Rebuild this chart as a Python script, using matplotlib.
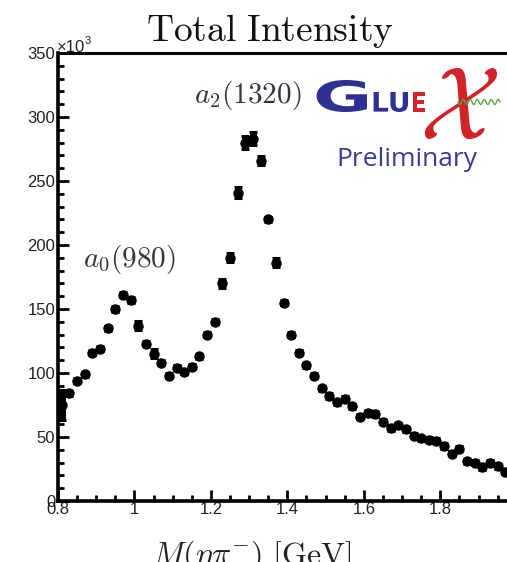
import numpy as np
import matplotlib
matplotlib.use("Agg")
import matplotlib.pyplot as plt
from matplotlib.ticker import MultipleLocator
from matplotlib.textpath import TextPath
from matplotlib.patches import PathPatch
from matplotlib.font_manager import FontProperties
from matplotlib.transforms import Affine2D

plt.rcParams['mathtext.fontset'] = 'cm'
plt.rcParams['font.family'] = ['Liberation Sans', 'DejaVu Sans']

# eta pi- invariant mass bins (GeV) and total intensity (x10^3 events)
mass = [0.81, 0.83, 0.85, 0.87, 0.89, 0.91, 0.93, 0.95, 0.97, 0.99,
        1.01, 1.03, 1.05, 1.07, 1.09, 1.11, 1.13, 1.15, 1.17, 1.19,
        1.21, 1.23, 1.25, 1.27, 1.29, 1.31, 1.33, 1.35, 1.37, 1.39,
        1.41, 1.43, 1.45, 1.47, 1.49, 1.51, 1.53, 1.55, 1.57, 1.59,
        1.61, 1.63, 1.65, 1.67, 1.69, 1.71, 1.73, 1.75, 1.77, 1.79,
        1.81, 1.83, 1.85, 1.87, 1.89, 1.91, 1.93, 1.95, 1.97]
intensity = [75, 84, 94, 99, 116, 119, 135, 150, 161, 157,
             137, 123, 115, 108, 98, 104, 101, 105, 113, 130,
             140, 170, 190, 241, 280, 283, 266, 220, 186, 155,
             130, 116, 106, 98, 88, 82, 77, 80, 74, 66,
             69, 68, 62, 57, 59, 56, 51, 49, 48, 47,
             43, 37, 41, 31, 30, 26.5, 30, 27, 23]
errors = [12, 2, 2, 2, 2, 2, 2, 2, 2, 2,
          3.5, 2, 3.5, 2, 2, 2, 2, 2, 2, 2,
          2, 3.5, 3.5, 4, 5, 5, 3.5, 2, 3.5, 2,
          2, 2, 2, 2, 2, 2, 2, 2, 2, 2,
          2, 2, 2, 2, 2, 2, 2, 2, 2, 2,
          2, 2, 2, 2, 2, 2, 2, 2, 2]

W, H = 507, 562
fig = plt.figure(figsize=(W / 100, H / 100), dpi=100)
ax = fig.add_axes([0.1144, 0.1085, 0.895, 0.7972])

ax.errorbar(mass, intensity, yerr=errors, fmt='o', color='black',
            markersize=6.5, elinewidth=5, capsize=3.2, capthick=2.2,
            zorder=3)

ax.set_xlim(0.8, 1.987)
ax.set_ylim(0, 350)
ax.xaxis.set_minor_locator(MultipleLocator(0.05))
ax.yaxis.set_major_locator(MultipleLocator(50))
ax.yaxis.set_minor_locator(MultipleLocator(10))
ax.set_xticks([0.8, 1.0, 1.2, 1.4, 1.6, 1.8])
ax.set_xticklabels(['0.8', '1', '1.2', '1.4', '1.6', '1.8'])
ax.tick_params(which='both', direction='in', width=2.0, colors='black',
               labelsize=12, top=False, right=False)
ax.tick_params(which='major', length=8, pad=1)
ax.tick_params(which='minor', length=4.5)
ax.tick_params(axis='y', which='major', pad=2)
for lab in ax.get_xticklabels() + ax.get_yticklabels():
    lab.set_color('#222222')

ax.spines['left'].set_linewidth(2.6)
ax.spines['bottom'].set_linewidth(2.6)
ax.spines['top'].set_linewidth(2.2)
ax.spines['right'].set_visible(False)

# multiplier above the y axis
fig.text(57 / W, 1 - 52 / H, '×10', fontsize=12, color='#222222',
         ha='left', va='baseline')
fig.text(85 / W, 1 - 44 / H, '3', fontsize=8, color='#222222',
         ha='left', va='baseline')

# resonance labels
ax.text(1.297, 317, r'$a_2(1320)$', fontsize=21, color='#333344',
        ha='center', va='center')
ax.text(0.988, 189, r'$a_0(980)$', fontsize=21, color='#333344',
        ha='center', va='center')

# title and axis label
fig.text(0.533, 0.945, r'$\mathrm{Total\ Intensity}$', fontsize=27,
         ha='center', va='center', color='#111111')
fig.text(0.497, -0.004, r'$M(\eta\pi^{-})\ \mathrm{[GeV]}$', fontsize=23,
         ha='center', va='baseline', color='#222222')


def glyphs_in_box(s, x0, y0, x1, y1, color, prop=None):
    # stretch a text outline to fill a pixel box (top-left origin)
    path = TextPath((0, 0), s, size=1, prop=prop)
    v = path.vertices
    bx0, by0 = v[:, 0].min(), v[:, 1].min()
    bx1, by1 = v[:, 0].max(), v[:, 1].max()
    sx = (x1 - x0) / (bx1 - bx0)
    sy = (y1 - y0) / (by1 - by0)
    tr = (Affine2D().translate(-bx0, -by0).scale(sx / W, sy / H)
          .translate(x0 / W, 1 - y1 / H) + fig.transFigure)
    fig.patches.append(PathPatch(path, transform=tr, facecolor=color,
                                 edgecolor='none'))


# GlueX logo
blue = '#2e3192'
red = '#d2232a'
bold = FontProperties(family='DejaVu Sans', weight='bold')
glyphs_in_box('G', 313, 80, 367, 112, blue, bold)
glyphs_in_box('LU', 371, 92, 408, 112, blue, bold)
glyphs_in_box('E', 411, 92, 425, 112, red, bold)
glyphs_in_box(r'$\mathcal{X}$', 420, 68, 497, 139, red)
wx = np.linspace(458, 500, 120)
wy = 102 + 2.5 * np.sin((wx - 458) * 2 * np.pi / 7.0)
fig.add_artist(plt.Line2D(wx / W, 1 - wy / H, color='#5aaa4a', lw=1.0,
                          transform=fig.transFigure))
fig.text(407 / W, 1 - 160 / H, 'Preliminary', fontsize=19,
         family=['Open Sans', 'DejaVu Sans'], color='#3b3b97',
         ha='center', va='center')

fig.savefig('out.png', dpi=100)
